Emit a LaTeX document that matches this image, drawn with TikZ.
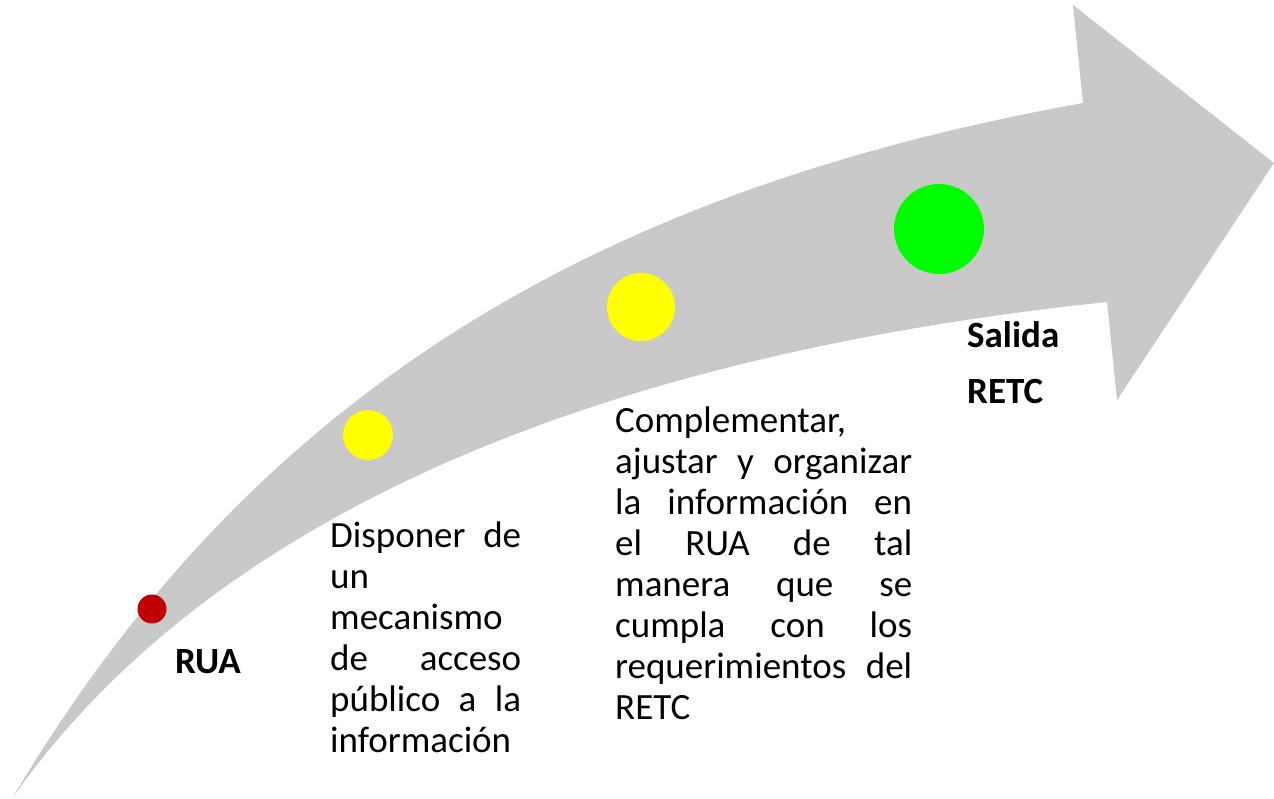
\documentclass[tikz,border=0pt]{standalone}
\usepackage{fontspec}
\setmainfont{Carlito}
\definecolor{arrowgray}{HTML}{C9C9C9}
\definecolor{ruared}{HTML}{C00000}
\definecolor{dotyellow}{HTML}{FFFF00}
\definecolor{dotgreen}{HTML}{00FF00}
\newcommand{\jline}[2]{\leavevmode\hbox to #1{#2}\\}

\begin{document}
\begin{tikzpicture}[x=1pt,y=-1pt]
      \tikzstyle{milestone}=[circle,inner sep=0pt,draw=none]
      \tikzstyle{lbl}=[anchor=base west,inner sep=0pt,font=\fontsize{37}{56}\selectfont\bfseries]
      \tikzstyle{desc}=[anchor=base west,inner sep=0pt,align=left,font=\fontsize{37}{41}\selectfont]
      \useasboundingbox (0,0) rectangle (1274,798);
      % curved arrow
      \fill[arrowgray] (13,797) .. controls (255,390) and (600,190) .. (1083,103)
        -- (1073,5) -- (1274,163) -- (1117,400) -- (1107,302)
        .. controls (650,350) and (230,490) .. cycle;
      % milestones
      \node[milestone,fill=ruared,minimum size=29pt] (rua) at (152,609) {};
      \node[milestone,fill=dotyellow,minimum size=50pt] (acceso) at (368,435) {};
      \node[milestone,fill=dotyellow,minimum size=68pt] (ajuste) at (641,307) {};
      \node[milestone,fill=dotgreen,minimum size=90pt] (salida) at (939,229) {};
      % texts
      \node[lbl] (ruatxt) at (175,673) {RUA};
      \node[lbl,text width=120pt] (salidatxt) at (967,347) {Salida\\RETC};
      \node[desc,text width=191pt] (accesotxt) at (330,547) {%
        \jline{191pt}{Disponer\hfill de}un\\mecanismo\\\jline{191pt}{de\hfill acceso}%
        \jline{191pt}{público\hfill a\hfill la}información};
      \node[desc,text width=297pt] (ajustetxt) at (615,432) {%
        Complementar,\\\jline{297pt}{ajustar\hfill y\hfill organizar}%
        \jline{297pt}{la\hfill información\hfill en}\jline{297pt}{el\hfill RUA\hfill de\hfill tal}%
        \jline{297pt}{manera\hfill que\hfill se}\jline{297pt}{cumpla\hfill con\hfill los}%
        \jline{297pt}{requerimientos\hfill del}RETC};
\end{tikzpicture}
\end{document}
